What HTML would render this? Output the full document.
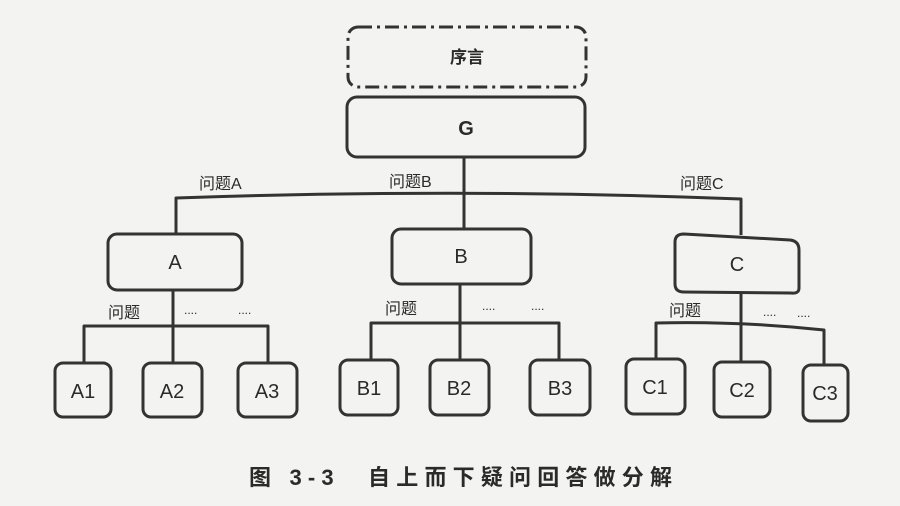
<!DOCTYPE html>
<html><head><meta charset="utf-8"><style>
html,body{margin:0;padding:0;background:#f3f3f1;}
svg{display:block}
text{font-family:"Liberation Sans","Noto Sans CJK SC",sans-serif;fill:#2a2a2a}
</style></head><body>
<svg width="900" height="506" viewBox="0 0 900 506" xmlns="http://www.w3.org/2000/svg">
<rect width="900" height="506" fill="#f3f3f1"/>
<g fill="none" stroke="#333" stroke-width="3" stroke-linejoin="round">
<rect x="348" y="27" width="238" height="60" rx="10" stroke-dasharray="14,5,3,5"/>
<rect x="347" y="97" width="238" height="60" rx="10"/>
<path d="M464 157 V229"/>
<path d="M176 235 V198 Q464 188 741 199 V235"/>
<rect x="108" y="234" width="134" height="56" rx="9"/>
<rect x="392" y="229" width="139" height="55" rx="9"/>
<path d="M684 234 L790 240 Q799 241 799 250 V288 Q799 294 791 293 L684 292 Q675 292 675 284 V242 Q675 234 684 234 Z"/>
<path d="M173 290 V363 M84 363 V326 H268 V363"/>
<path d="M460 284 V360 M371 360 V323 H559 V360"/>
<path d="M741 293 V362 M656 359 V323 Q740 321 824 330 V365"/>
<rect x="55" y="363" width="56" height="54" rx="8"/>
<rect x="143" y="363" width="59" height="54" rx="8"/>
<rect x="238" y="363" width="59" height="54" rx="8"/>
<rect x="340" y="360" width="58" height="55" rx="8"/>
<rect x="430" y="360" width="59" height="55" rx="8"/>
<rect x="530" y="360" width="60" height="55" rx="8"/>
<rect x="626" y="359" width="59" height="55" rx="8"/>
<rect x="714" y="362" width="56" height="55" rx="8"/>
<rect x="803" y="365" width="45" height="56" rx="8"/>
</g>
<g font-size="20" text-anchor="middle">
<text x="467" y="63" font-weight="bold" font-size="17">序言</text>
<text x="466" y="135" font-weight="bold">G</text>
<text x="175" y="269">A</text>
<text x="461" y="263">B</text>
<text x="737" y="271">C</text>
<text x="83" y="398">A1</text>
<text x="172" y="398">A2</text>
<text x="267" y="398">A3</text>
<text x="369" y="395">B1</text>
<text x="459" y="395">B2</text>
<text x="560" y="395">B3</text>
<text x="655" y="394">C1</text>
<text x="742" y="397">C2</text>
<text x="825" y="400">C3</text>
</g>
<g font-size="16">
<text x="199" y="189">问题A</text>
<text x="389" y="187">问题B</text>
<text x="680" y="189">问题C</text>
<text x="108" y="318">问题</text>
<text x="385" y="314">问题</text>
<text x="669" y="316">问题</text>
<text x="184" y="314" font-size="12">....</text>
<text x="238" y="314" font-size="12">....</text>
<text x="482" y="310" font-size="12">....</text>
<text x="531" y="310" font-size="12">....</text>
<text x="763" y="316" font-size="12">....</text>
<text x="797" y="317" font-size="12">....</text>
</g>
<text x="249" y="485" font-size="22" font-weight="bold" textLength="423" lengthAdjust="spacing">图 3-3　自上而下疑问回答做分解</text>
</svg>
</body></html>
